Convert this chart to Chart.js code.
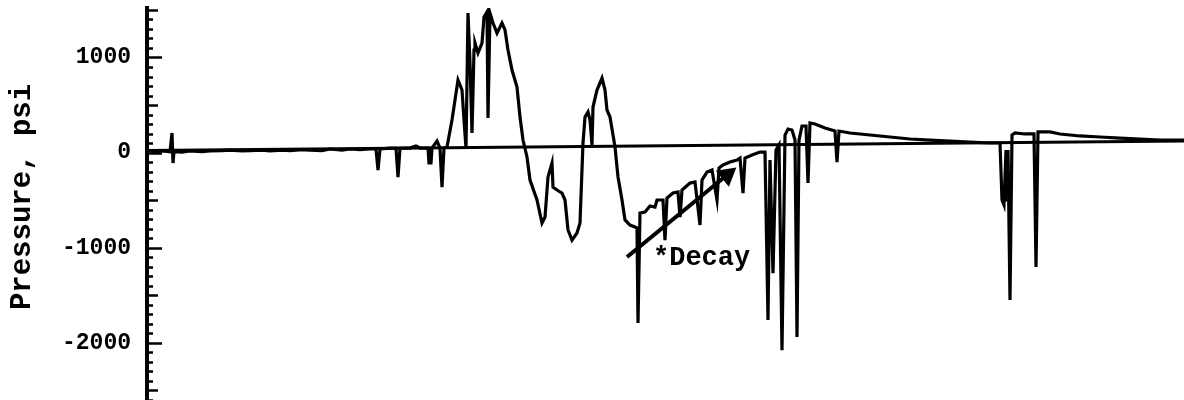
<!DOCTYPE html>
<html>
<head>
<meta charset="utf-8">
<title>Pressure trace</title>
<script src="https://cdn.jsdelivr.net/npm/chart.js@4.4.0/dist/chart.umd.min.js"></script>
<style>
  body { margin: 0; background: #fff; }
  #wrap { width: 1184px; height: 400px; }
</style>
</head>
<body>
<div id="wrap"><canvas id="pressureChart" width="1184" height="400"></canvas></div>
<script>
// time in ms, pressure in psi
const traceTime = [
  0.3, 1.5, 2.3, 2.5, 2.6, 2.7, 3.5, 4.3, 5.5, 6.3, 7.5, 8.3, 9.5, 10.3, 11.5, 12.3, 13.5, 14.3, 15.5,
  16.3, 17.5, 18.3, 19.5, 20.3, 21.3, 22.3, 22.9, 23.1, 23.3, 24.3, 24.9, 25.1, 25.3,
  26.3, 26.9, 27.3, 28.1, 28.2, 28.4, 28.5, 29.0, 29.3, 29.5, 29.7, 30.0, 30.5, 31.1,
  31.5, 31.7, 31.9, 32.1, 32.3, 32.5, 32.7, 32.8, 33.1, 33.5, 33.7, 34.0, 34.1, 34.3,
  34.6, 35.0, 35.5, 35.8, 36.1, 36.5, 37.0, 37.3, 37.6, 38.0, 38.3, 39.0, 39.5, 39.8,
  40.1, 40.5, 40.6, 41.0, 41.5, 41.8, 42.1, 42.5, 43.0, 43.3, 43.6, 43.8, 44.1, 44.3,
  44.5, 44.6, 45.0, 45.5, 45.8, 46.0, 46.3, 46.8, 47.1, 47.5, 47.8, 48.3, 48.8, 49.0,
  49.1, 49.3, 49.8, 50.3, 50.8, 51.0, 51.6, 51.8, 52.0, 52.6, 53.1, 53.3, 53.5, 54.3,
  54.8, 55.3, 55.5, 56.0, 56.5, 57.0, 57.2, 57.6, 58.3, 59.0, 59.3, 59.6, 59.8, 60.5,
  61.3, 61.8, 62.1, 62.3, 62.6, 62.9, 63.2, 63.5, 63.8, 64.1, 64.5, 64.8, 65.0, 65.2,
  65.5, 65.9, 66.1, 66.3, 66.8, 67.8, 68.8, 69.0, 69.2, 70.3, 72.3, 74.3, 76.3, 78.3,
  80.3, 82.3, 84.3, 85.3, 85.5, 85.7, 85.9, 86.0, 86.1, 86.3, 86.5, 86.8, 87.8, 88.7,
  88.9, 89.1, 90.3, 91.3, 93.3, 95.3, 97.3, 99.3, 101.3, 103.7
];
const tracePressure = [
  6, 17, 10, 206, -109, 10, 6, 17, 10, 17, 21, 27, 17, 21, 27, 17, 27, 21, 32,
  27, 21, 38, 27, 38, 32, 38, 38, -183, 38, 48, 48, -257, 48,
  48, 69, 48, 48, -109, -109, 48, 122, 48, -362, 48, 59, 343, 763,
  658, 343, 48, 1467, 942, 206, 1078, 1152, 1047, 1152, 1425, 1478, 364, 1467,
  1362, 1257, 1362, 1289, 1078, 868, 689, 374, 132, -46, -288, -498, -740, -677,
  -256, -109, -362, -393, -425, -498, -813, -919, -845, -740, 101, 374, 427, 343,
  80, 479, 658, 784, 658, 448, 374, 59, -256, -498, -708, -761, -782, -792,
  -1791, -635, -625, -561, -572, -498, -498, -919, -477, -425, -414, -677, -393, -320,
  -309, -761, -288, -204, -183, -498, -162, -130, -99, -78, -57, -425, -57, -25,
  6, 6, -1760, -78, -1267, 27, 80, -2076, 185, 248, 238, 132, -1939, 132,
  280, 280, -320, 311, 301, 259, 227, -99, 227, 206, 185, 164, 143, 132,
  122, 111, 101, 101, -498, -551, 27, -498, 27, -1550, 185, 206, 196, 196,
  -1203, 217, 217, 196, 175, 164, 153, 143, 132, 132
];

// reference line drawn across the record
const baselineTime = [0, 103.7];
const baselinePressure = [22, 122];

// arrow along the decay
const arrowTime = [48.0, 58.0];
const arrowPressure = [-1097, -235];

const yTicks = [-2000, -1000, 0, 1000];
const yTitle = 'Pressure, psi';
const decayLabel = '*Decay';
const decayAt = [50.6, -1108];

const ink = '#000';
const mono = "'Liberation Mono', 'DejaVu Sans Mono', monospace";

const toPoints = (xs, ys) => xs.map((x, i) => ({ x: x, y: ys[i] }));

// inward tick marks every 100 psi, the axis title and the decay note
const extras = {
  id: 'extras',
  afterDatasetsDraw(chart) {
    const ys = chart.scales.y;
    const xs = chart.scales.x;
    const x0 = chart.chartArea.left;
    const c = chart.ctx;
    c.save();
    c.strokeStyle = ink;
    c.lineWidth = 2.5;
    for (let v = -2600; v <= 1500; v += 100) {
      const py = Math.round(ys.getPixelForValue(v)) + 0.5;
      const len = v % 1000 === 0 ? 15 : (v % 500 === 0 ? 11 : 6);
      c.beginPath();
      c.moveTo(x0, py);
      c.lineTo(x0 + len, py);
      c.stroke();
    }
    c.fillStyle = ink;
    c.font = 'bold 27px ' + mono;
    c.textBaseline = 'middle';
    c.textAlign = 'left';
    c.fillText(decayLabel, xs.getPixelForValue(decayAt[0]), ys.getPixelForValue(decayAt[1]));

    c.translate(23, 197);
    c.rotate(-Math.PI / 2);
    c.textAlign = 'center';
    c.font = 'bold 29px ' + mono;
    c.fillText(yTitle, 0, 0);
    c.restore();
  }
};

new Chart(document.getElementById('pressureChart'), {
  type: 'line',
  data: {
    datasets: [
      {
        data: toPoints(baselineTime, baselinePressure),
        borderColor: ink,
        borderWidth: 3,
        pointRadius: 0
      },
      {
        data: toPoints(traceTime, tracePressure),
        borderColor: ink,
        borderWidth: 3.2,
        pointRadius: 0,
        tension: 0
      },
      {
        data: toPoints(arrowTime, arrowPressure),
        borderColor: ink,
        borderWidth: 4,
        pointRadius: [0, 8],
        pointStyle: 'triangle',
        pointRotation: 51,
        pointBackgroundColor: ink,
        pointBorderColor: ink
      }
    ]
  },
  options: {
    responsive: false,
    animation: false,
    layout: { autoPadding: false, padding: { top: 8, left: 0, right: 0, bottom: 0 } },
    plugins: {
      legend: { display: false },
      tooltip: { enabled: false }
    },
    scales: {
      x: {
        type: 'linear',
        display: false,
        min: 0,
        max: 103.7
      },
      y: {
        type: 'linear',
        min: -2600,
        max: 1520,
        afterFit: (s) => {
          s.width = 147;
          s.paddingTop = 0;
          s.paddingBottom = 0;
        },
        afterBuildTicks: (s) => { s.ticks = yTicks.map(v => ({ value: v })); },
        grid: { display: false, drawTicks: false },
        border: { display: true, color: ink, width: 4 },
        ticks: {
          color: ink,
          padding: 16,
          font: { family: mono, size: 23, weight: 'bold' },
          callback: (v) => String(v)
        }
      }
    }
  },
  plugins: [extras]
});
</script>
</body>
</html>
